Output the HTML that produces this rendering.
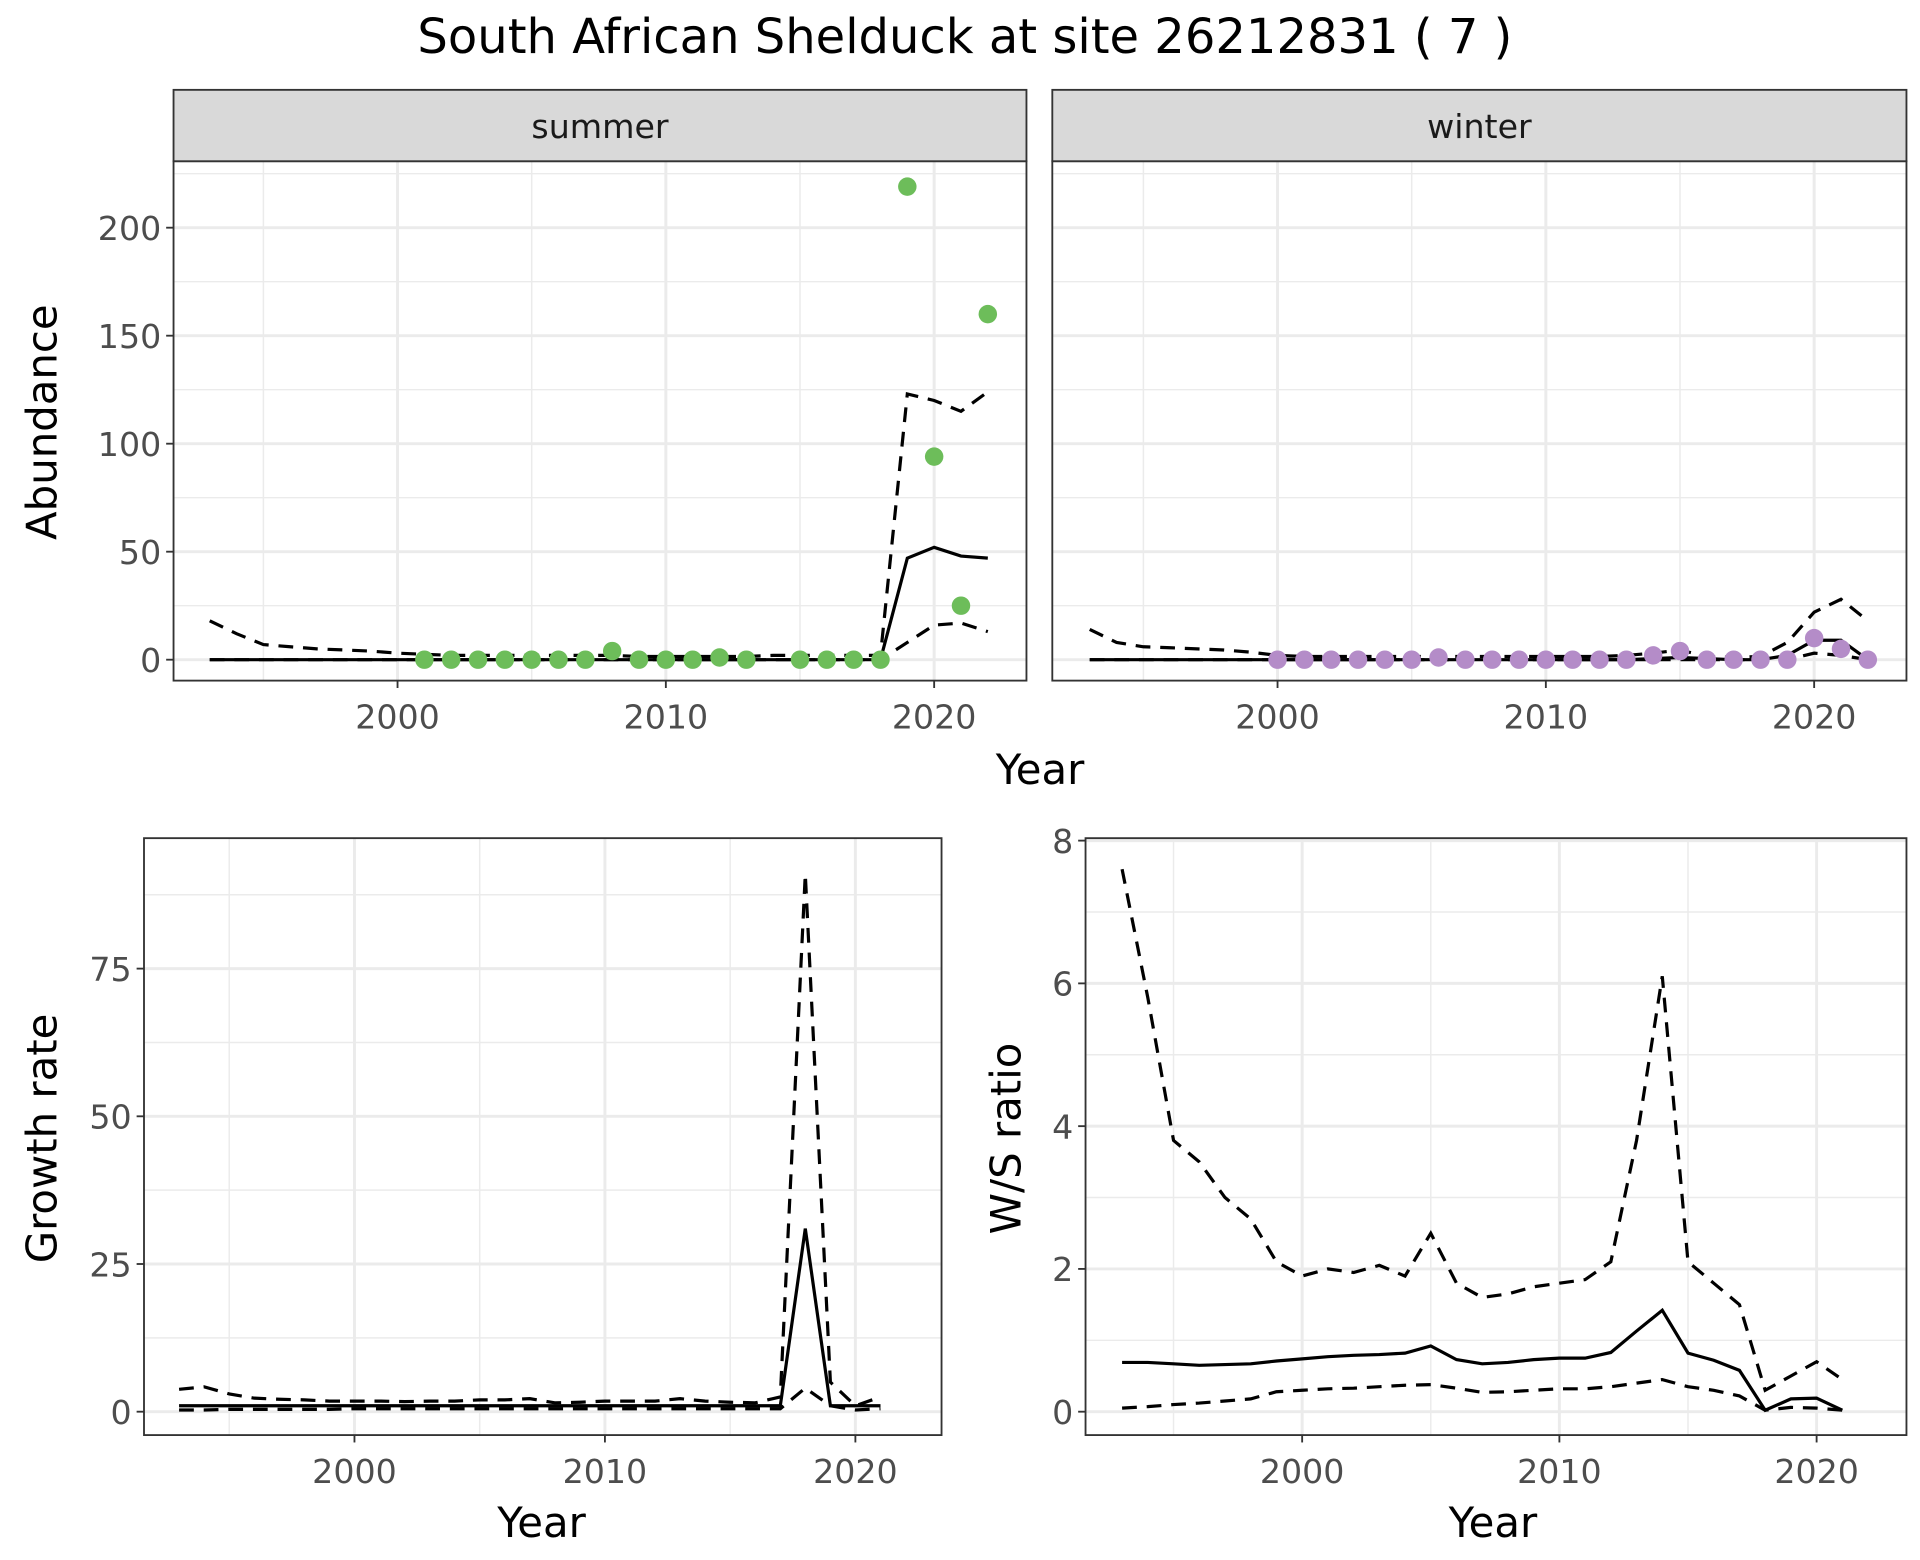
<!DOCTYPE html>
<html><head><meta charset="utf-8"><style>
html,body{margin:0;padding:0;background:#fff}
svg{display:block}
text{font-family:"DejaVu Sans","Liberation Sans",sans-serif}
</style></head><body>
<svg id="s" width="1920" height="1560" viewBox="0 0 1560 1267.5" preserveAspectRatio="none" xmlns="http://www.w3.org/2000/svg">
<text x="784" y="43" font-size="39" text-anchor="middle" fill="#000">South African Shelduck at site 26212831 ( 7 )</text>
</svg>
<script>
const sumYears=[1993,1994,1995,1996,1997,1998,1999,2000,2001,2002,2003,2004,2005,2006,2007,2008,2009,2010,2011,2012,2013,2014,2015,2016,2017,2018,2019,2020,2021,2022];
const sumMean=[0,0,0,0,0,0,0,0,0,0,0,0,0,0,0,0,0,0,0,0,0,0,0,0,0,0,47,52,48,47];
const sumUpper=[18,12,7,6,5,4.5,4,3,2.5,2,2,2,2,2,2,2,1.5,1.5,1.5,1.5,1.5,2,2,2,2,2,123,120,115,124];
const sumLower=[0,0,0,0,0,0,0,0,0,0,0,0,0,0,0,0,0,0,0,0,0,0,0,0,0,0,8,16,17,13];
const sumPtYears=[2001,2002,2003,2004,2005,2006,2007,2008,2009,2010,2011,2012,2013,2015,2016,2017,2018,2019,2020,2021,2022];
const sumPtVals=[0,0,0,0,0,0,0,4,0,0,0,1,0,0,0,0,0,219,94,25,160];
const winMean=[0,0,0,0,0,0,0,0,0,0,0,0,0,0,0,0,0,0,0,0,0,0.5,1,0.5,0,0,2,9,9,0];
const winUpper=[14,8,6,5.5,5,4.5,3.5,2,1.5,1.5,1.5,1.5,1.5,1.5,1.5,1.5,1.5,1.5,1.5,1.5,2,3,4.5,1.5,1,1.5,8,22,28,18];
const winLower=[0,0,0,0,0,0,0,0,0,0,0,0,0,0,0,0,0,0,0,0,0,0,0,0,0,0,0,3,2,0];
const winPtYears=[2000,2001,2002,2003,2004,2005,2006,2007,2008,2009,2010,2011,2012,2013,2014,2015,2016,2017,2018,2019,2020,2021,2022];
const winPtVals=[0,0,0,0,0,0,1,0,0,0,0,0,0,0,2,4,0,0,0,0,10,5,0];
const grYears=[1993,1994,1995,1996,1997,1998,1999,2000,2001,2002,2003,2004,2005,2006,2007,2008,2009,2010,2011,2012,2013,2014,2015,2016,2017,2018,2019,2020,2021];
const grMean=[1,1,1,1,1,1,1,1,1,1,1,1,1,1,1,1,1,1,1,1,1,1,1,1,1,31,1,1,1];
const grUpper=[3.8,4.2,3,2.3,2.1,2,1.8,1.8,1.8,1.7,1.8,1.8,2,2,2.2,1.5,1.6,1.8,1.8,1.8,2.2,1.8,1.6,1.5,2.5,91,5,1,2.5];
const grLower=[0.3,0.3,0.4,0.4,0.4,0.4,0.4,0.5,0.5,0.5,0.5,0.5,0.5,0.5,0.5,0.5,0.5,0.5,0.5,0.5,0.5,0.5,0.5,0.5,0.5,4,1,0.3,0.5];
const wsMean=[0.69,0.69,0.67,0.65,0.66,0.67,0.71,0.74,0.77,0.79,0.8,0.82,0.92,0.73,0.67,0.69,0.73,0.75,0.75,0.83,1.13,1.42,0.82,0.72,0.58,0.02,0.18,0.19,0.02];
const wsUpper=[7.6,5.8,3.8,3.5,3.0,2.7,2.1,1.9,2.0,1.95,2.05,1.9,2.5,1.8,1.6,1.65,1.75,1.8,1.85,2.1,3.8,6.1,2.1,1.8,1.5,0.3,0.5,0.7,0.45];
const wsLower=[0.05,0.07,0.1,0.12,0.15,0.18,0.28,0.3,0.32,0.33,0.35,0.37,0.38,0.33,0.27,0.28,0.3,0.32,0.32,0.35,0.4,0.45,0.35,0.3,0.22,0.02,0.06,0.05,0.02];
const abTicks=[0,50,100,150,200];
const grTicks=[0,25,50,75];
const wsTicks=[0,2,4,6,8];
const yrTicks=[2000,2010,2020];

const S=document.getElementById('s');
const NS='http://www.w3.org/2000/svg';
function mk(tag,at,parent){const e=document.createElementNS(NS,tag);for(const k in at)e.setAttribute(k,at[k]);(parent||S).appendChild(e);return e;}
function panel(o){
  const g=mk('g',{});
  
  
  mk('rect',{x:o.x0,y:o.y0,width:o.x1-o.x0,height:o.y1-o.y0,fill:'#fff'},g);
  o.yMinor.forEach(v=>{const y=o.ys(v);if(y>o.y0&&y<o.y1)mk('line',{x1:o.x0,x2:o.x1,y1:y,y2:y,stroke:'#ebebeb','stroke-width':1.2},g);});
  o.xMinor.forEach(v=>{const x=o.xs(v);if(x>o.x0&&x<o.x1)mk('line',{x1:x,x2:x,y1:o.y0,y2:o.y1,stroke:'#ebebeb','stroke-width':1.2},g);});
  o.yTicks.forEach(v=>{const y=o.ys(v);mk('line',{x1:o.x0,x2:o.x1,y1:y,y2:y,stroke:'#ebebeb','stroke-width':2.4},g);});
  yrTicks.forEach(v=>{const x=o.xs(v);mk('line',{x1:x,x2:x,y1:o.y0,y2:o.y1,stroke:'#ebebeb','stroke-width':2.4},g);
    mk('line',{x1:x,x2:x,y1:o.y1,y2:o.y1+6,stroke:'#333','stroke-width':1.5});
    const t=mk('text',{x:x,y:o.y1+39,'font-size':27,'text-anchor':'middle',fill:'#4d4d4d'});t.textContent=v;
    });
  if(o.yLabels){o.yTicks.forEach(v=>{const y=o.ys(v);mk('line',{x1:o.x0-6,x2:o.x0,y1:y,y2:y,stroke:'#333','stroke-width':1.5});
    const t=mk('text',{x:o.x0-10,y:y+10,'font-size':27,'text-anchor':'end',fill:'#4d4d4d'});t.textContent=v;
    });}
  return g;
}
function line(xs,ys,X,Y,dash,name){
  const d=X.map((x,i)=>(i?'L':'M')+xs(x).toFixed(1)+','+ys(Y[i]).toFixed(1)).join('');
  const p=mk('path',{d:d,fill:'none',stroke:'#000','stroke-width':2.6,'stroke-dasharray':dash?'12,8':'none'});
  
}
function pts(xs,ys,X,Y,col,name){X.forEach((x,i)=>{const c=mk('circle',{cx:xs(x),cy:ys(Y[i]),r:7.5,fill:col});
  });}
function border(x0,x1,y0,y1){mk('rect',{x:x0,y:y0,width:x1-x0,height:y1-y0,fill:'none',stroke:'#333','stroke-width':1.5});}
function strip(x0,x1,label,name){const r=mk('rect',{x:x0,y:73,width:x1-x0,height:58,fill:'#d9d9d9',stroke:'#333','stroke-width':1.5});
  
  const t=mk('text',{x:(x0+x1)/2,y:112,'font-size':27,'text-anchor':'middle',fill:'#1a1a1a'});t.textContent=label;
  }
function label(x,y,txt,rot,name,size){const t=mk('text',{x:x,y:y,'font-size':size||34,'text-anchor':'middle',fill:'#000',transform:rot?`rotate(-90 ${x} ${y})`:''});t.textContent=txt;
  }

const minorYr=[1995,2005,2015];
const abY=v=>536-v*(351/200);
const sumX=v=>323+(v-2000)*21.8;
const winX=v=>1038+(v-2000)*21.8;
panel({x0:141,x1:834,y0:131,y1:553,xs:sumX,ys:abY,yTicks:abTicks,yMinor:[25,75,125,175,225],xMinor:minorYr,name:'summer-panel',yLabels:true});
line(sumX,abY,sumYears,sumUpper,true,'summer-upper-ci');
line(sumX,abY,sumYears,sumLower,true,'summer-lower-ci');
line(sumX,abY,sumYears,sumMean,false,'summer-mean');
pts(sumX,abY,sumPtYears,sumPtVals,'#6dbd5a','summer-count-point');
border(141,834,131,553);strip(141,834,'summer','summer-strip');
panel({x0:855,x1:1549,y0:131,y1:553,xs:winX,ys:abY,yTicks:abTicks,yMinor:[25,75,125,175,225],xMinor:minorYr,name:'winter-panel',yLabels:false});
line(winX,abY,sumYears,winUpper,true,'winter-upper-ci');
line(winX,abY,sumYears,winLower,true,'winter-lower-ci');
line(winX,abY,sumYears,winMean,false,'winter-mean');
pts(winX,abY,winPtYears,winPtVals,'#b48cc8','winter-count-point');
border(855,1549,131,553);strip(855,1549,'winter','winter-strip');
label(845,637,'Year',false,'abundance-x-title');
label(46,343,'Abundance',true,'abundance-y-title');
const grX=v=>288+(v-2000)*20.35;
const grY=v=>1147-v*4.8;
panel({x0:117,x1:765,y0:681,y1:1166,xs:grX,ys:grY,yTicks:grTicks,yMinor:[12.5,37.5,62.5,87.5],xMinor:minorYr,name:'growth-panel',yLabels:true});
line(grX,grY,grYears,grUpper,true,'growth-upper-ci');
line(grX,grY,grYears,grLower,true,'growth-lower-ci');
line(grX,grY,grYears,grMean,false,'growth-mean');
border(117,765,681,1166);
label(440,1249,'Year',false,'growth-x-title');
label(46,925,'Growth rate',true,'growth-y-title');
const wsX=v=>1058+(v-2000)*20.9;
const wsY=v=>1147-v*58;
panel({x0:882,x1:1549,y0:681,y1:1166,xs:wsX,ys:wsY,yTicks:wsTicks,yMinor:[1,3,5,7],xMinor:minorYr,name:'ws-ratio-panel',yLabels:true});
line(wsX,wsY,grYears,wsUpper,true,'ws-upper-ci');
line(wsX,wsY,grYears,wsLower,true,'ws-lower-ci');
line(wsX,wsY,grYears,wsMean,false,'ws-mean');
border(882,1549,681,1166);
label(1213,1249,'Year',false,'ws-x-title');
label(829,925,'W/S ratio',true,'ws-y-title');
</script>
</body></html>
